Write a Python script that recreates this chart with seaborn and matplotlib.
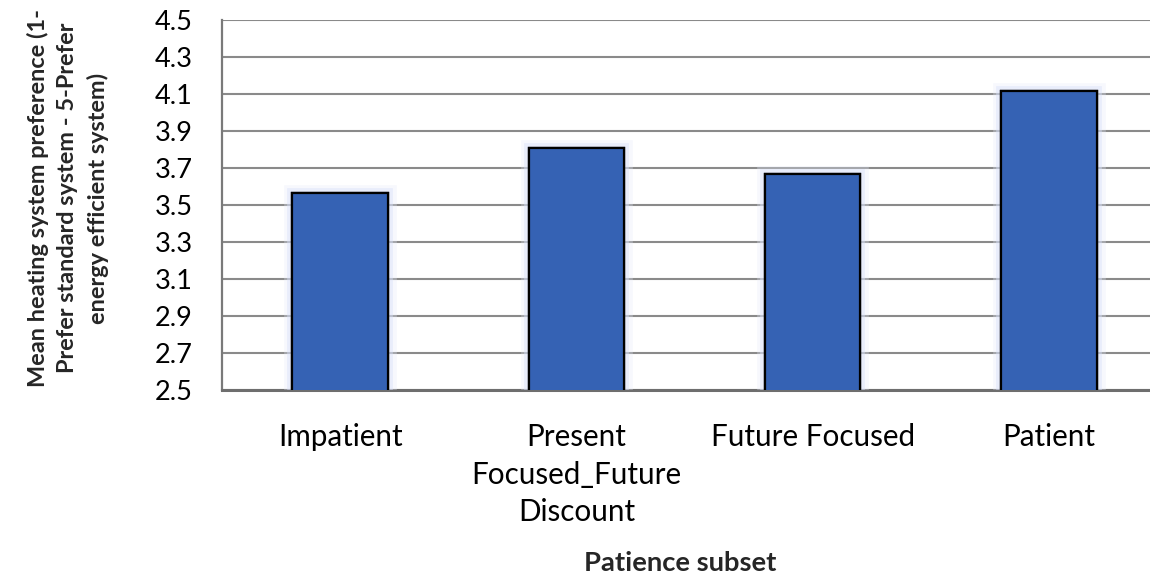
import matplotlib
matplotlib.use("Agg")
import matplotlib.pyplot as plt
import matplotlib.patheffects as pe
import seaborn as sns
import pandas as pd

categories = ["Impatient", "Present\nFocused_Future\nDiscount", "Future Focused", "Patient"]
mean_pref = [3.563, 3.810, 3.668, 4.114]
yticks = [2.5, 2.7, 2.9, 3.1, 3.3, 3.5, 3.7, 3.9, 4.1, 4.3, 4.5]

df = pd.DataFrame({"subset": categories, "pref": mean_pref})

sns.set_theme(style="white")
plt.rcParams["font.family"] = ["Lato", "DejaVu Sans"]

W, H = 1150, 582
fig = plt.figure(figsize=(W / 100, H / 100), dpi=100)
# plot area runs a little past the right edge of the canvas
left, right, top, bottom = 222, 1167, 20, 390
ax = fig.add_axes([left / W, 1 - bottom / H, (right - left) / W, (bottom - top) / H])

sns.barplot(data=df, x="subset", y="pref", ax=ax, color="#3562B4",
            width=0.405, edgecolor="black", linewidth=1.6, saturation=1, zorder=3)

glow = [pe.withStroke(linewidth=12, foreground="#e6ebfb", alpha=0.3),
        pe.withStroke(linewidth=7, foreground="#d8e0fa", alpha=0.45),
        pe.Normal()]
for p in ax.patches:
    p.set_path_effects(glow)

ax.set_ylim(2.5, 4.5)
ax.set_yticks(yticks)
ax.set_yticklabels([f"{t:.1f}" for t in yticks], fontsize=19.5, color="black")
ax.yaxis.grid(True, color="#8a8a8a", linewidth=1.5, zorder=0)
ax.set_axisbelow(True)
ax.tick_params(axis="y", length=0, pad=21, left=False)
ax.tick_params(axis="x", length=0, pad=24, labelsize=21.3, labelcolor="black")
for lbl in ax.get_xticklabels():
    lbl.set_linespacing(1.41)
    lbl.set_verticalalignment("top")

for s in ["top", "right"]:
    ax.spines[s].set_visible(False)
ax.spines["left"].set_color("#7a7a7a")
ax.spines["left"].set_linewidth(1.6)
ax.spines["bottom"].set_color("#6e6e6e")
ax.spines["bottom"].set_linewidth(2.2)

ax.set_xlabel("")
ax.set_ylabel("")
fig.text(680 / W, 1 - 563 / H, "Patience subset", ha="center", va="center",
         fontsize=19.7, fontweight="bold")
fig.text(68 / W, 1 - 198 / H,
         "Mean heating system preference (1-\nPrefer standard system - 5-Prefer\nenergy efficient system)",
         ha="center", va="center", rotation=90, fontsize=16.9, fontweight="bold",
         linespacing=1.5)

fig.savefig("out.png", dpi=100)
